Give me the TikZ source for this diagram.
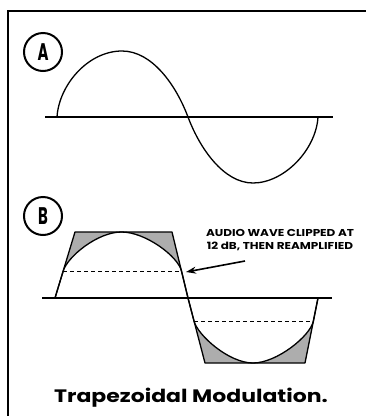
\documentclass[tikz,border=0pt]{standalone}
\usepackage{fontspec}
\setmainfont{Poppins}
\usetikzlibrary{arrows.meta}
\begin{document}
\begin{tikzpicture}[x=1pt,y=-1pt,line width=1.3pt,font=\bfseries,
  letter/.style={circle,draw,line width=2pt,minimum size=38pt,inner sep=0pt},
  clip fill/.style={fill=black!32},
  level/.style={line width=1pt,dash pattern=on 4pt off 3pt}]
  \useasboundingbox (0,0) rectangle (366,416);
  \draw[line width=2pt] (8,416) -- (8,11) -- (366,11);
  \foreach \lab/\y in {A/52,B/216}{
    \node[letter] (circ\lab) at (43,\y) {\fontsize{24}{24}\selectfont\scalebox{0.62}[1]{\lab}};
  }
  % (A) plain sine wave
  \draw (45,117) -- (333,117);
  \draw (57,117) .. controls (59,85) and (88,51) .. (122,51)
    .. controls (152,51) and (176,85) .. (188,117)
    .. controls (200,149) and (224,183) .. (253,183)
    .. controls (284,183) and (316,150) .. (318,117);
  % (B) clipped and reamplified
  \fill[clip fill] (63.2,271) -- (75,232) -- (172,232) -- (181.5,271)
    .. controls (178,256.4) and (145.5,232) .. (121.5,232)
    .. controls (97.5,232) and (67.6,256.6) .. cycle;
  \fill[clip fill] (194,321) -- (205,363) -- (305,363) -- (313.4,321)
    .. controls (310.5,335.7) and (277,363) .. (253,363)
    .. controls (229,363) and (197.8,335.5) .. cycle;
  \draw (42,298) -- (332,298);
  \draw[level] (63.2,271) -- (181.5,271) (194,321) -- (313.4,321);
  \draw[line join=round] (55,298) -- (75,232) -- (172,232) -- (188,298) -- (205,363) -- (305,363) -- (318,298);
  \draw (55,298) -- (63.2,271) .. controls (67.6,256.6) and (97.5,232) .. (121.5,232)
    .. controls (145.5,232) and (178,256.4) .. (181.5,271) -- (188,298) -- (194,321)
    .. controls (197.8,335.5) and (229,363) .. (253,363)
    .. controls (277,363) and (310.5,335.7) .. (313.4,321) -- (318,298);
  \node[align=center,font=\bfseries\fontsize{10}{13}\selectfont] (note) at (280,240)
    {\scalebox{1.2}[1]{AUDIO WAVE CLIPPED AT}\\\scalebox{1.2}[1]{12 dB, THEN REAMPLIFIED}};
  \coordinate (tail) at (245,261);
  \coordinate (tip) at (186,272);
  \draw[line width=1.6pt,-{Stealth[length=10pt,width=7pt]}] (tail) -- (tip);
  \node[font=\bfseries\fontsize{18}{18}\selectfont] (title) at (191,398)
    {\scalebox{1.22}[1]{Trapezoidal Modulation.}};
\end{tikzpicture}
\end{document}
